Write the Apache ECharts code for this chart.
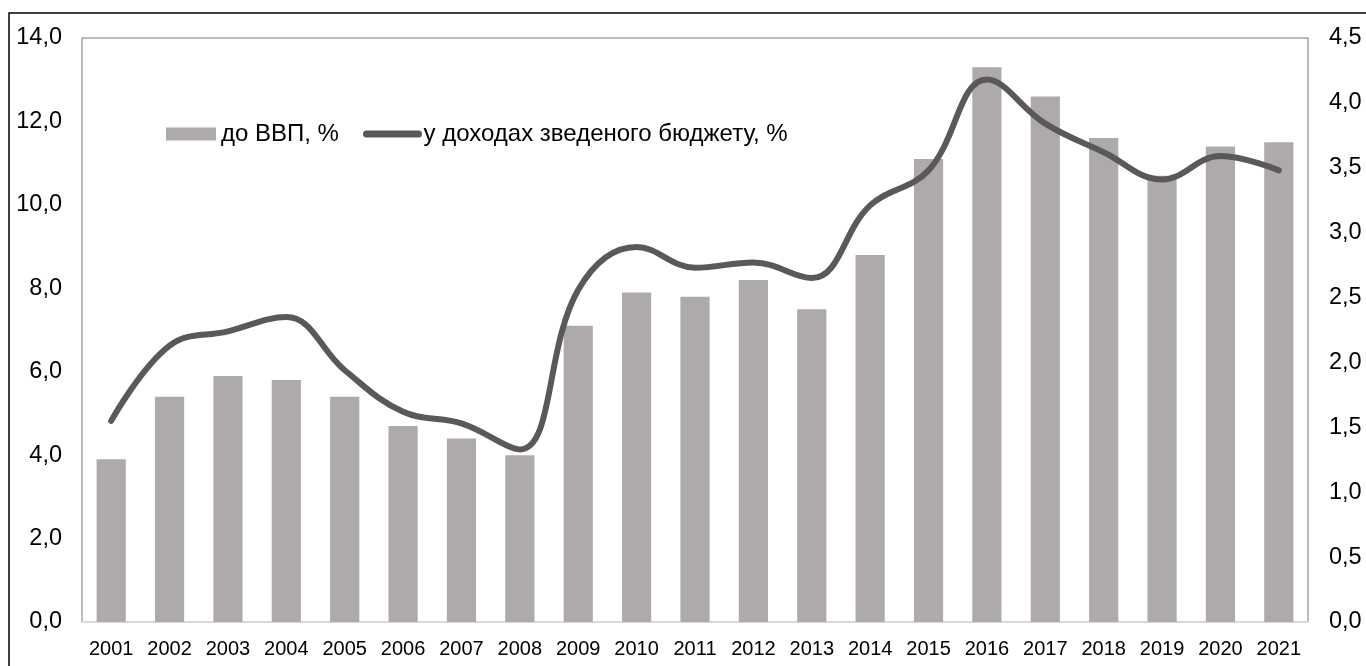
<!DOCTYPE html>
<html>
<head>
<meta charset="utf-8">
<script src="https://cdn.jsdelivr.net/npm/echarts@6/dist/echarts.min.js"></script>
<style>
  html, body { margin: 0; padding: 0; background: #fff; }
  #chart { width: 1366px; height: 666px; }
</style>
</head>
<body>
<div id="chart"></div>
<script>
var years = ['2001', '2002', '2003', '2004', '2005', '2006', '2007', '2008', '2009', '2010', '2011',
  '2012', '2013', '2014', '2015', '2016', '2017', '2018', '2019', '2020', '2021']
// до ВВП, % (ліва вісь)
var gdpShare = [3.9, 5.4, 5.9, 5.8, 5.4, 4.7, 4.4, 4.0, 7.1, 7.9, 7.8,
  8.2, 7.5, 8.8, 11.1, 13.3, 12.6, 11.6, 10.7, 11.4, 11.5]
// у доходах зведеного бюджету, % (права вісь)
var budgetShare = [1.55, 2.13, 2.24, 2.35, 1.94, 1.62, 1.53, 1.33, 2.56, 2.89, 2.73,
  2.77, 2.65, 3.21, 3.48, 4.18, 3.84, 3.62, 3.41, 3.59, 3.48]
var seriesNames = ['до ВВП, %', 'у доходах зведеного бюджету, %']

var font = 'Liberation Sans, Arial, sans-serif'
function comma (v) {
  return v.toFixed(1).replace('.', ',')
}
var legendText = { fontFamily: font, fontSize: 24, color: '#000' }

var chart = echarts.init(document.getElementById('chart'))
chart.setOption({
  animation: false,
  graphic: [{
    type: 'rect',
    shape: { x: 9, y: 13, width: 1500, height: 800 },
    style: { fill: 'none', stroke: '#000', lineWidth: 1.5 },
    silent: true
  }],
  legend: [{
    left: 161,
    top: 117,
    itemWidth: 50,
    itemHeight: 13,
    textStyle: legendText,
    data: [{ name: seriesNames[0], icon: 'rect' }]
  }, {
    left: 358,
    top: 117,
    itemWidth: 52,
    itemHeight: 13,
    textStyle: legendText,
    lineStyle: { width: 7, cap: 'round' },
    data: [{ name: seriesNames[1], itemStyle: { opacity: 0 } }]
  }],
  grid: {
    left: 82,
    right: 58,
    top: 38,
    bottom: 44,
    show: true,
    borderColor: '#a6a6a6',
    borderWidth: 1.5
  },
  xAxis: {
    type: 'category',
    data: years,
    axisTick: { show: false },
    axisLine: { lineStyle: { color: '#d9d9d9', width: 2 } },
    axisLabel: { fontFamily: font, fontSize: 20, color: '#000', margin: 17, interval: 0 }
  },
  yAxis: [{
    type: 'value',
    min: 0,
    max: 14,
    interval: 2,
    splitLine: { show: false },
    axisLabel: { fontFamily: font, fontSize: 23.5, color: '#000', margin: 20, formatter: comma }
  }, {
    type: 'value',
    min: 0,
    max: 4.5,
    interval: 0.5,
    splitLine: { show: false },
    axisLabel: { fontFamily: font, fontSize: 23.5, color: '#000', margin: 21, formatter: comma }
  }],
  series: [{
    name: seriesNames[0],
    type: 'bar',
    barWidth: '50%',
    itemStyle: { color: '#aeaaaa' },
    data: gdpShare
  }, {
    name: seriesNames[1],
    type: 'line',
    yAxisIndex: 1,
    smooth: 0.4,
    symbol: 'none',
    lineStyle: { color: '#595959', width: 6, cap: 'round' },
    itemStyle: { color: '#595959' },
    data: budgetShare
  }]
})
</script>
</body>
</html>
